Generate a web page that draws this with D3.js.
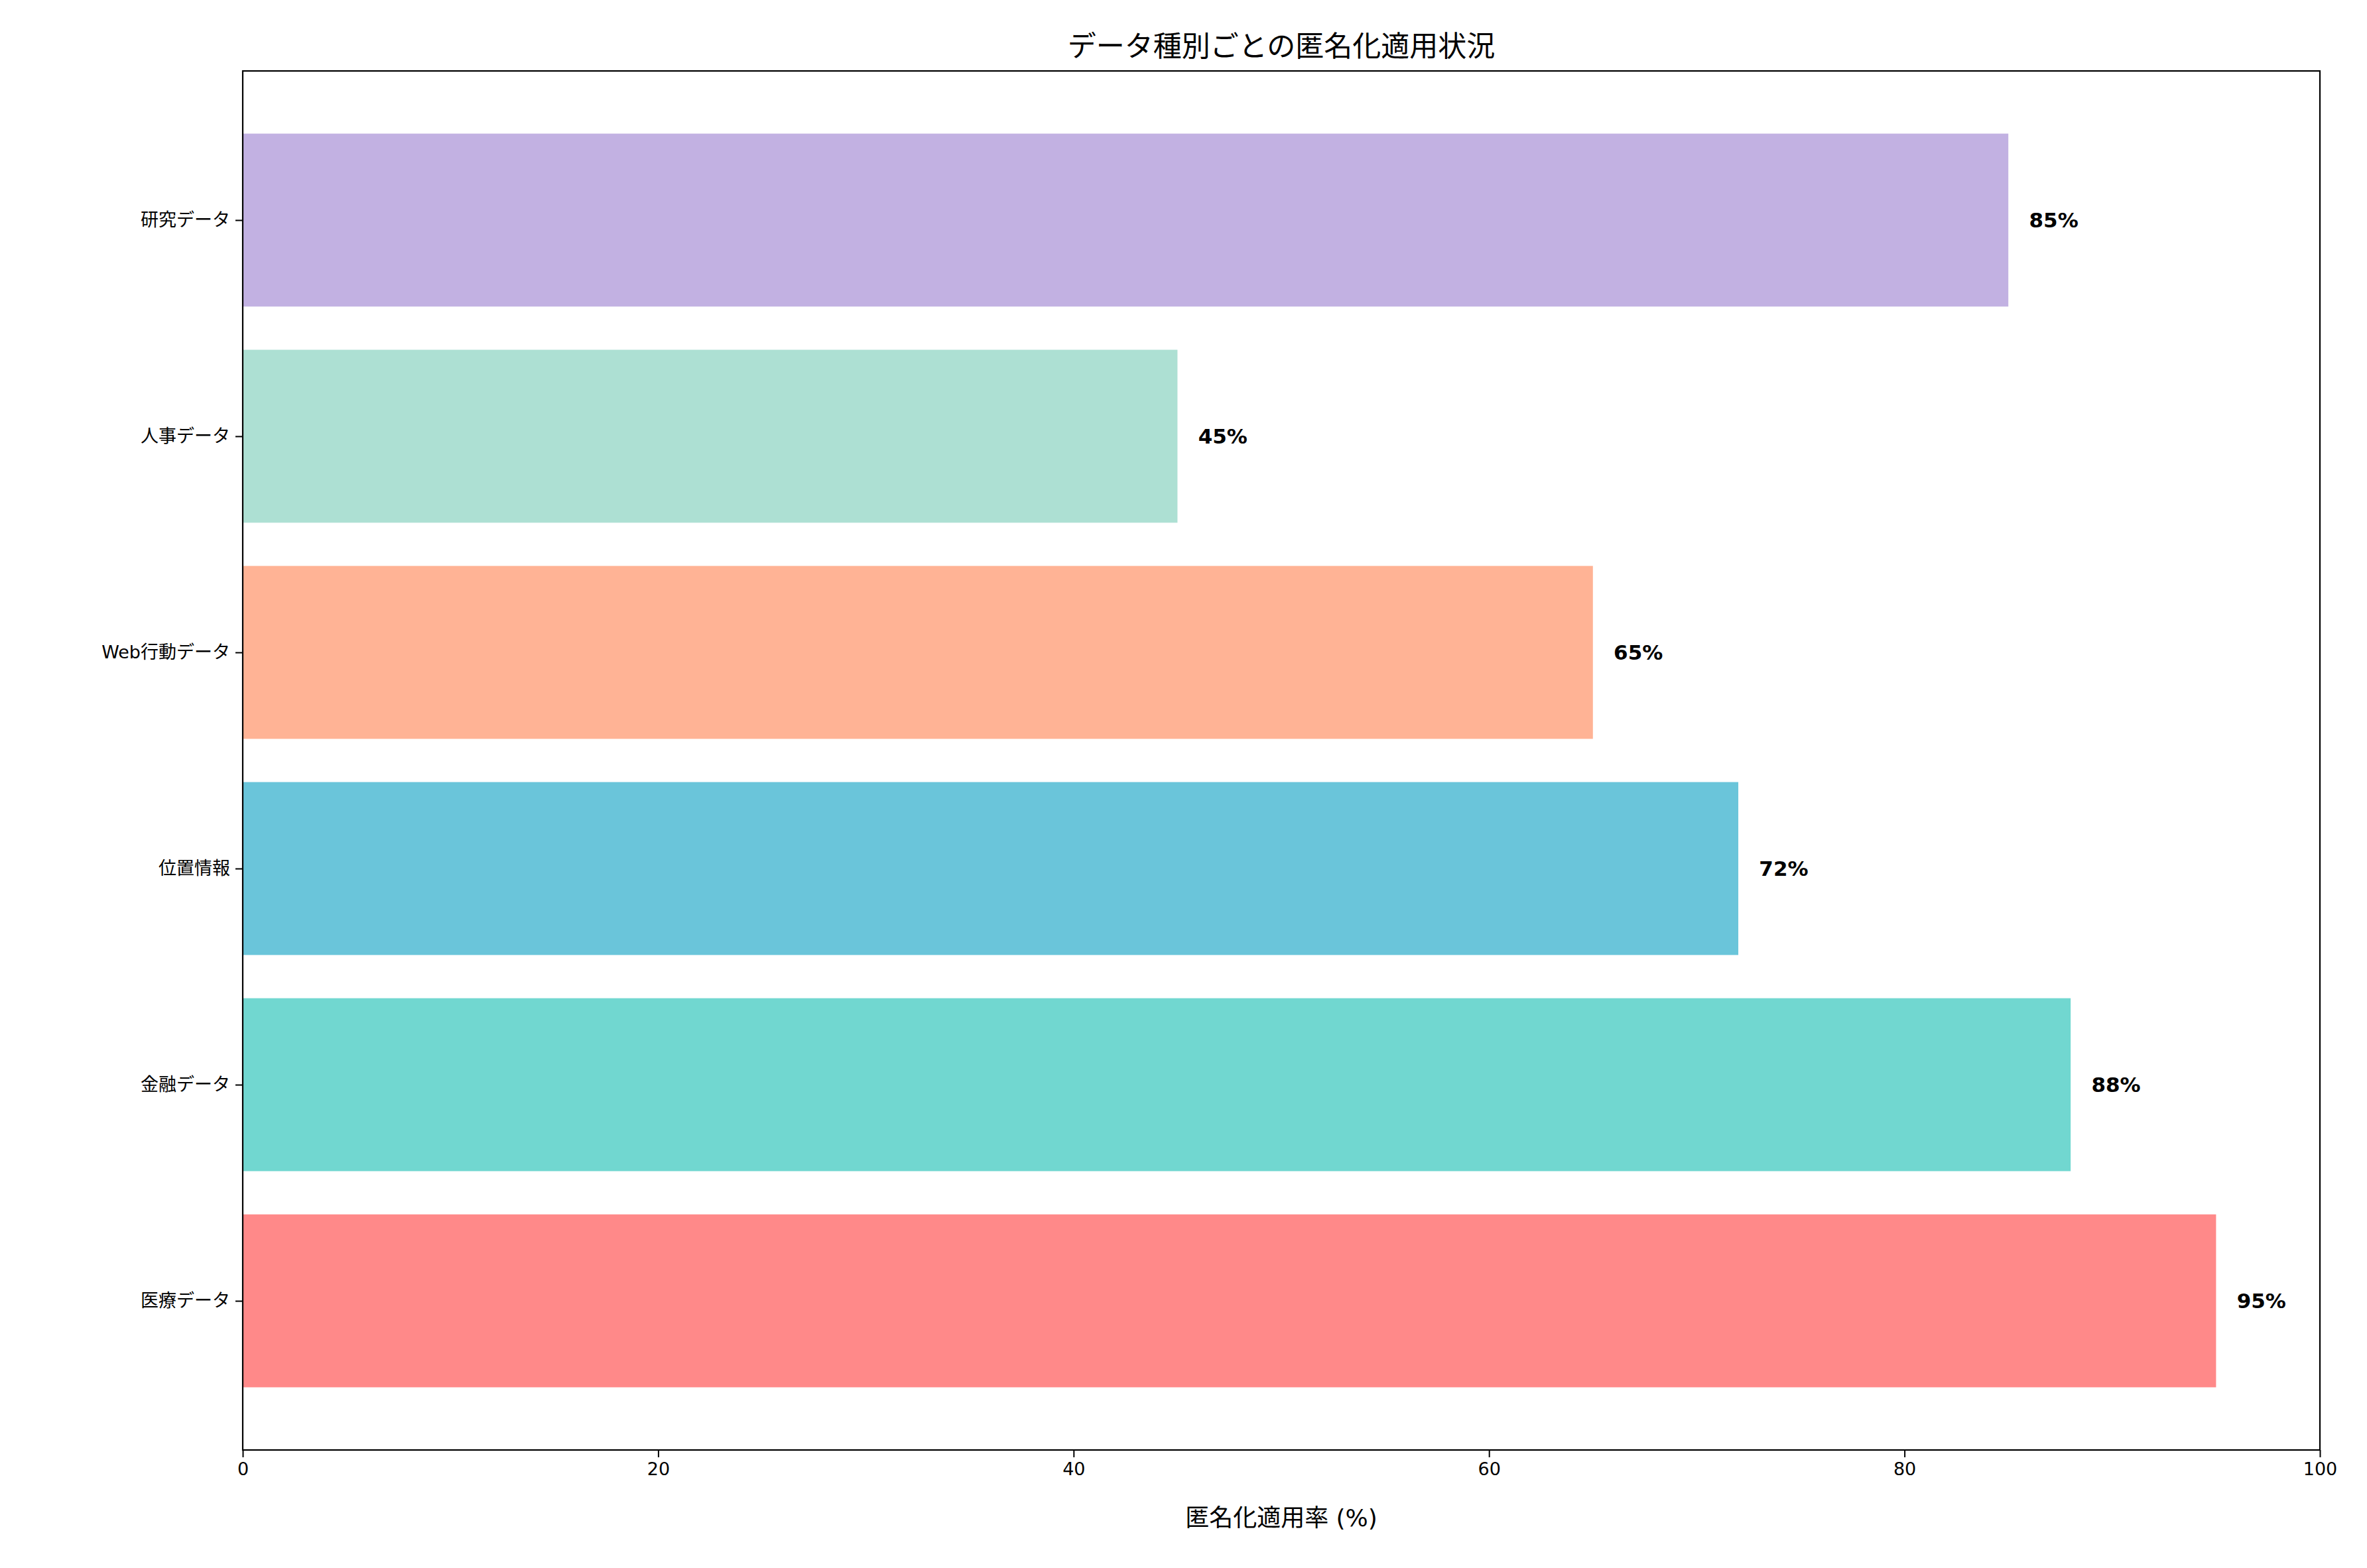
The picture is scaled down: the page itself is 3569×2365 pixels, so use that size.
<!DOCTYPE html>
<html>
<head>
<meta charset="utf-8">
<script src="https://cdn.jsdelivr.net/npm/d3@7"></script>
<style>
  body { margin: 0; background: #fff; }
  text { font-family: "DejaVu Sans", "Noto Sans CJK JP", sans-serif; }
</style>
</head>
<body>
<svg id="chart"></svg>
<script>
const categories = ['医療データ', '金融データ', '位置情報', 'Web行動データ', '人事データ', '研究データ'];
const values = [95, 88, 72, 65, 45, 85];
const colors = ['#FF6B6B', '#4ECDC4', '#45B7D1', '#FFA07A', '#98D8C8', '#B39DDB'];
const xTicks = [0, 20, 40, 60, 80, 100];

const W = 3569, H = 2365;
const margin = { top: 107, right: 71, bottom: 178, left: 366 };
const width = W - margin.left - margin.right,
    height = H - margin.top - margin.bottom;

const svg = d3.select('#chart').attr('width', W).attr('height', H);
const g = svg.append('g').attr('transform', `translate(${margin.left},${margin.top})`);

const x = d3.scaleLinear().domain([0, 100]).range([0, width]);
// matplotlib style: bar centres at 0..n-1, 5% margins
const n = categories.length;
const y = d3.scaleLinear().domain([-0.69, n - 1 + 0.69]).range([height, 0]);
const bh = Math.abs(y(0.8) - y(0));

g.selectAll('.bar')
    .data(values)
    .enter().append('rect')
    .attr('class', 'bar')
    .attr('x', x(0))
    .attr('y', (d, i) => y(i) - bh / 2)
    .attr('width', d => x(d) - x(0))
    .attr('height', bh)
    .attr('fill', (d, i) => colors[i])
    .attr('fill-opacity', 0.8);

// value labels
g.selectAll('.val')
    .data(values)
    .enter().append('text')
    .attr('x', d => x(d + 1))
    .attr('y', (d, i) => y(i))
    .attr('dy', '0.35em')
    .attr('font-size', 31)
    .attr('font-weight', 'bold')
    .text(d => d + '%');

// axes
const xAxis = d3.axisBottom(x).tickValues(xTicks).tickSize(11).tickPadding(8);
const xg = g.append('g').attr('transform', `translate(0,${height})`).call(xAxis);
xg.selectAll('text').attr('font-size', 27).attr('fill', '#000');

const yAxis = d3.axisLeft(y).tickValues(d3.range(n)).tickFormat(i => categories[i]).tickSize(11).tickPadding(8);
const yg = g.append('g').call(yAxis);
yg.selectAll('text').attr('font-size', 27).attr('fill', '#000');

svg.selectAll('.domain').remove();
g.append('rect')
    .attr('width', width).attr('height', height)
    .attr('fill', 'none').attr('stroke', '#000').attr('stroke-width', 2.2);
svg.selectAll('.tick line').attr('stroke', '#000').attr('stroke-width', 2);

// labels
svg.append('text')
    .attr('x', margin.left + width / 2)
    .attr('y', margin.top - 22)
    .attr('text-anchor', 'middle')
    .attr('font-size', 43)
    .text('データ種別ごとの匿名化適用状況');

svg.append('text')
    .attr('x', margin.left + width / 2)
    .attr('y', margin.top + height + 115)
    .attr('text-anchor', 'middle')
    .attr('font-size', 36)
    .text('匿名化適用率 (%)');
</script>
</body>
</html>
